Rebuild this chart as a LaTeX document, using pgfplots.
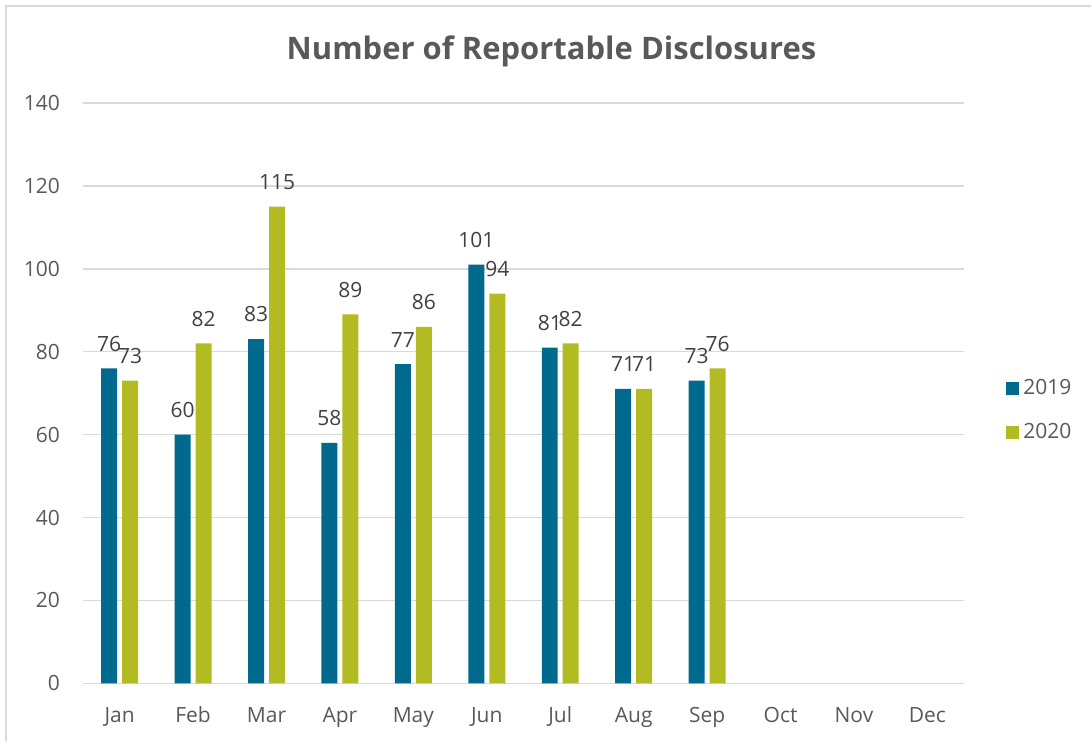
\documentclass[border=0pt]{standalone}
\usepackage{pgfplots}
\pgfplotsset{compat=1.18}
\usepackage{fontspec}
\setmainfont{Open Sans}
\definecolor{cBlue}{HTML}{006A8E}
\definecolor{cGreen}{HTML}{B2BB22}
\definecolor{txt}{HTML}{595959}
\definecolor{lbl}{HTML}{404040}
\definecolor{grd}{HTML}{D9D9D9}
\begin{document}
\begin{tikzpicture}
\begin{axis}[
    scale only axis,
    width=441pt, height=290.5pt,
    ybar, bar width=8pt,
    xmin=-0.5, xmax=11.5,
    ymin=0, ymax=140,
    ytick={0,20,...,140},
    xtick={0,...,11},
    xticklabels={Jan,Feb,Mar,Apr,May,Jun,Jul,Aug,Sep,Oct,Nov,Dec},
    axis line style={draw=none},
    axis x line*=bottom,
    ymajorgrids, grid style={grd, line width=0.8pt},
    major tick length=0pt,
    tick label style={font=\fontsize{10.5}{12}\selectfont, text=txt},
    yticklabel style={xshift=-8pt},
    xticklabel style={anchor=base, yshift=-19.5pt},
    /pgf/number format/assume math mode=true,
    title={\bfseries Number of Reportable Disclosures},
    title style={font=\fontsize{15.5}{18}\selectfont, text=txt, anchor=base, at={(0.5,1)}, xshift=14pt, yshift=15.5pt},
    nodes near coords,
    every node near coord/.append style={font=\fontsize{10.5}{12}\selectfont, text=lbl, yshift=5pt},
    legend style={draw=none, at={(1.04,0.47)}, anchor=west, font=\fontsize{10.5}{12}\selectfont, text=txt, row sep=9pt},
    legend image code/.code={\fill[#1] (0cm,-0.12cm) rectangle (0.24cm,0.12cm);},
]
\draw[grd, line width=0.8pt] (axis cs:-0.5,0) -- (axis cs:11.5,0);
\addplot[fill=cBlue, draw=none, bar shift=-5.25pt] coordinates {
    (0,76) (1,60) (2,83) (3,58) (4,77) (5,101) (6,81) (7,71) (8,73)
};
\addplot[fill=cGreen, draw=none, bar shift=5.25pt] coordinates {
    (0,73) (1,82) (2,115) (3,89) (4,86) (5,94) (6,82) (7,71) (8,76)
};
\legend{2019,2020}
\end{axis}
\pgfresetboundingbox
\path (-41.5pt,-29pt) rectangle (504.5pt,342pt);
\draw[grd, line width=1pt] (-38.7pt,-29pt) -- (-38.7pt,339.2pt) -- (504.5pt,339.2pt);
\end{tikzpicture}
\end{document}
